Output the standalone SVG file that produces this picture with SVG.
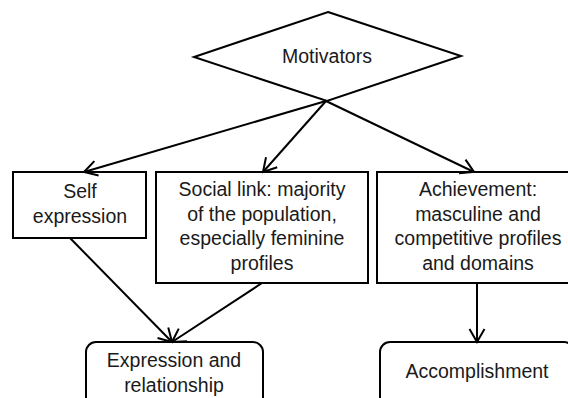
<svg xmlns="http://www.w3.org/2000/svg" width="568" height="398" viewBox="0 0 568 398">
<style>
.shape{fill:#fff;stroke:#000;stroke-width:2}
.t{font-family:"Liberation Sans",Arial,sans-serif;font-size:19.5px;fill:#1a1a1a;text-anchor:middle}
.c{stroke:#000;stroke-width:2;fill:none;marker-end:url(#arr)}
</style>
<defs>
<marker id="arr" viewBox="0 0 16 18" refX="14" refY="9" markerWidth="16" markerHeight="18" markerUnits="userSpaceOnUse" orient="auto">
<path d="M1,1.5 L14,9 L1,16.5" fill="none" stroke="#000" stroke-width="2"/>
</marker>
</defs>
<rect width="568" height="398" fill="#fff"/>
<g id="motivators">
<polygon class="shape" points="328,12 461,56 327,101 194,57"/>
<text class="t" x="327" y="63">Motivators</text>
</g>
<g id="self">
<rect class="shape" x="13" y="172" width="133" height="66"/>
<text class="t" x="80" y="198">Self</text>
<text class="t" x="80" y="223">expression</text>
</g>
<g id="social">
<rect class="shape" x="156" y="172" width="212" height="111"/>
<text class="t" x="262" y="196">Social link: majority</text>
<text class="t" x="262" y="221">of the population,</text>
<text class="t" x="262" y="245">especially feminine</text>
<text class="t" x="262" y="270">profiles</text>
</g>
<g id="achievement">
<rect class="shape" x="377" y="172" width="200" height="111"/>
<text class="t" x="478" y="196">Achievement:</text>
<text class="t" x="478" y="221">masculine and</text>
<text class="t" x="478" y="245">competitive profiles</text>
<text class="t" x="478" y="270">and domains</text>
</g>
<g id="expression">
<rect class="shape" x="86" y="342" width="177" height="70" rx="10" ry="10"/>
<text class="t" x="174" y="367">Expression and</text>
<text class="t" x="174" y="392">relationship</text>
</g>
<g id="accomplishment">
<rect class="shape" x="380" y="342" width="194" height="70" rx="10" ry="10"/>
<text class="t" x="477" y="378">Accomplishment</text>
</g>
<g id="connectors">
<line class="c" x1="326" y1="101" x2="84" y2="172"/>
<line class="c" x1="326" y1="101" x2="263" y2="172"/>
<line class="c" x1="326" y1="101" x2="474" y2="172"/>
<line class="c" x1="70" y1="238" x2="172" y2="342"/>
<line class="c" x1="262" y1="283" x2="172" y2="342"/>
<line class="c" x1="477" y1="283" x2="477" y2="342"/>
</g>
</svg>
